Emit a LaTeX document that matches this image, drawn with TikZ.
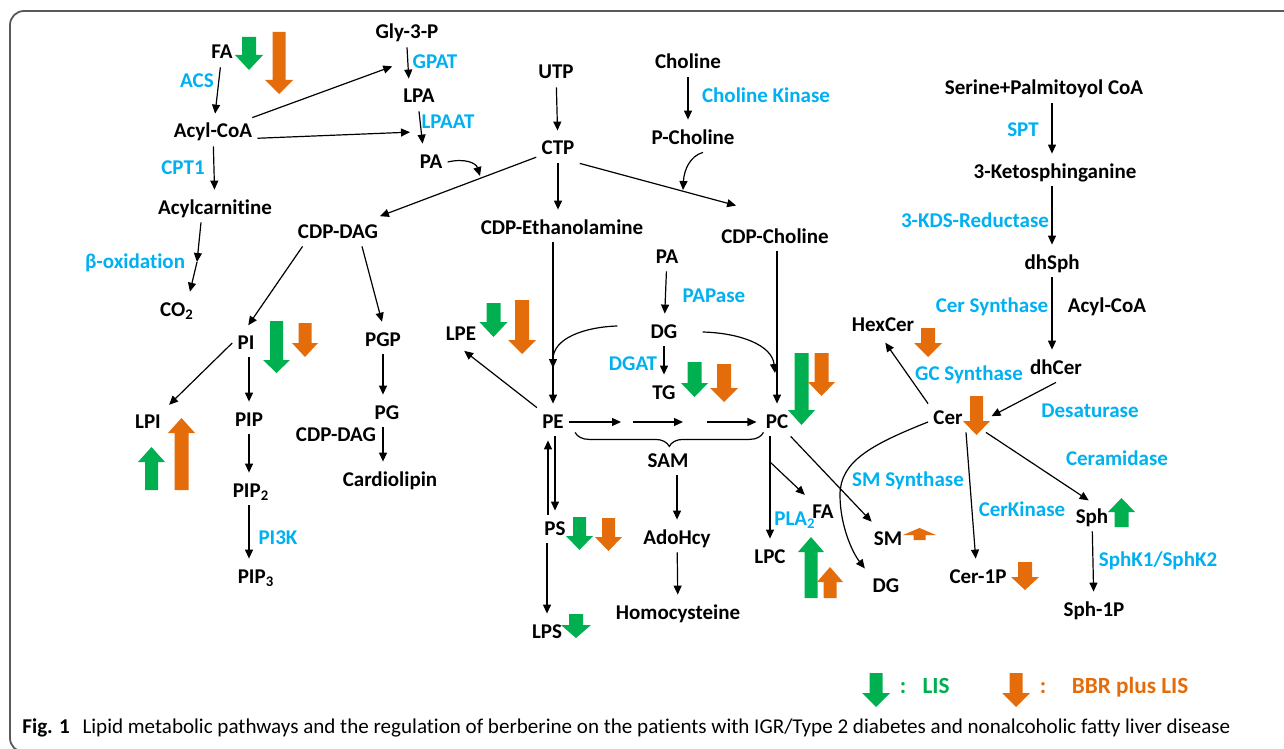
\documentclass[tikz,border=0pt]{standalone}
\usepackage{fontspec}
\setmainfont{Carlito}[Ligatures=NoCommon]
\usepackage{graphicx}
\usetikzlibrary{arrows.meta,decorations.pathreplacing}
\definecolor{lisgreen}{RGB}{0,176,80}
\definecolor{bbrorange}{RGB}{228,108,10}
\definecolor{enzblue}{RGB}{0,176,240}

\begin{document}
\begin{tikzpicture}[x=0.5pt, y=-0.5pt,
  metnode/.style={font=\fontsize{10.5}{12}\selectfont\bfseries, inner sep=2.5pt, text height=7.5pt, text depth=1.5pt},
  enznode/.style={metnode, text=enzblue},
  conv/.style={-{Triangle[length=4.5pt,width=4pt]}, line width=0.6pt, shorten >=2pt},
  legendtext/.style={font=\fontsize{11.6}{13}\selectfont\bfseries, inner sep=0pt, anchor=base}]

        \useasboundingbox (0,0) rectangle (1284,749);
        \draw[black!65, line width=0.9pt, rounded corners=7pt] (1300,11) -- (10,11) -- (10,752) -- (1300,752);

        % fatty acids
        \node[metnode] (fa) at (222,53) {FA};
        \node[enznode] (acs) at (197,82) {ACS};
        \node[metnode] (acyl) at (213,132) {Acyl-CoA};
        \node[enznode] (cpt) at (183,168) {CPT1};
        \node[metnode] (acar) at (215,208) {Acylcarnitine};
        \node[enznode] (boxi) at (135,262) {β-oxidation};
        \node[metnode] (co2) at (177,310) {CO\textsubscript{2}};

        % glycerol phosphate
        \node[metnode] (gly) at (407,33) {Gly-3-P};
        \node[enznode] (gpat) at (435,63) {GPAT};
        \node[metnode] (lpa) at (419,97) {LPA};
        \node[enznode] (lpaat) at (448,122) {LPAAT};
        \node[metnode] (pa) at (431,162) {PA};
        \node[metnode] (cdpdag) at (338,232) {CDP-DAG};

        % CTP
        \node[metnode] (utp) at (556,73) {UTP};
        \node[metnode] (ctp) at (558,149) {CTP};
        \node[metnode] (cdpe) at (562,228) {CDP-Ethanolamine};
        \node[metnode] (chol) at (688,63) {Choline};
        \node[enznode] (chk) at (766,97) {Choline Kinase};
        \node[metnode] (pchol) at (693,138) {P-Choline};
        \node[metnode] (cdpc) at (775,237) {CDP-Choline};

        % PA / DG
        \node[metnode] (pa2) at (667,257) {PA};
        \node[enznode] (papase) at (714,296) {PAPase};
        \node[metnode] (dg) at (664,332) {DG};
        \node[enznode] (dgat) at (633,364) {DGAT};
        \node[metnode] (tg) at (664,393) {TG};

        % PE / PC
        \node[metnode] (lpe) at (461,334) {LPE};
        \node[metnode] (pe) at (553,422) {PE};
        \node[metnode] (pc) at (777,422) {PC};
        \node[metnode] (sam) at (668,461) {SAM};
        \node[metnode] (adohcy) at (677,538) {AdoHcy};
        \node[metnode] (homocys) at (678,613) {Homocysteine};
        \node[metnode] (ps) at (555,529) {PS};
        \node[metnode] (lps) at (547,632) {LPS};
        \node[metnode] (lpc) at (770,557) {LPC};
        \node[metnode] (fa2) at (823,512) {FA};
        \node[enznode] (pla) at (795,519) {PLA\textsubscript{2}};

        % sphingolipids
        \node[metnode] (serine) at (1044,89) {Serine+Palmitoyol CoA};
        \node[enznode] (spt) at (1023,130) {SPT};
        \node[metnode] (keto) at (1055,172) {3-Ketosphinganine};
        \node[enznode] (kds) at (975,221) {3-KDS-Reductase};
        \node[metnode] (dhsph) at (1052,263) {dhSph};
        \node[enznode] (cers) at (992,306) {Cer Synthase};
        \node[metnode] (acyl2) at (1107,306) {Acyl-CoA};
        \node[metnode] (dhcer) at (1056,368) {dhCer};
        \node[metnode] (hexcer) at (883,325) {HexCer};
        \node[enznode] (gcs) at (969,374) {GC Synthase};
        \node[metnode] (cer) at (948,418) {Cer};
        \node[enznode] (desat) at (1090,411) {Desaturase};
        \node[enznode] (ceramidase) at (1117,459) {Ceramidase};
        \node[enznode] (sms) at (908,480) {SM Synthase};
        \node[enznode] (cerk) at (1022,510) {CerKinase};
        \node[metnode] (sph) at (1092,517) {Sph};
        \node[metnode] (sm) at (888,539) {SM};
        \node[enznode] (sphk) at (1158,560) {SphK1/SphK2};
        \node[metnode] (cer1p) at (978,577) {Cer-1P};
        \node[metnode] (dg2) at (886,586) {DG};
        \node[metnode] (sph1p) at (1094,610) {Sph-1P};

        % PI / PG
        \node[metnode] (pi) at (246,343) {PI};
        \node[metnode] (lpi) at (148,422) {LPI};
        \node[metnode] (pip) at (249,420) {PIP};
        \node[metnode] (pip2) at (251,491) {PIP\textsubscript{2}};
        \node[enznode] (pi3k) at (278,538) {PI3K};
        \node[metnode] (pip3) at (256,577) {PIP\textsubscript{3}};
        \node[metnode] (pgp) at (383,340) {PGP};
        \node[metnode] (pg) at (387,413) {PG};
        \node[metnode] (cdpdag2) at (336,435) {CDP-DAG};
        \node[metnode] (cardio) at (390,480) {Cardiolipin};

        % free ends on other arrows
        \coordinate (gpatend) at (396,65);
        \coordinate (lpaatend) at (414,132);
        \coordinate (paend) at (480,176);
        \coordinate (pcholend) at (683,190);
        \coordinate (oxmid) at (197,262);
        \coordinate (dgpe) at (553,368);
        \coordinate (dgpc) at (775,373);
        \coordinate (sam1) at (625,422);
        \coordinate (sam2) at (633,422);
        \coordinate (sam3) at (687,422);
        \coordinate (sam4) at (707,422);
        \coordinate (plabr) at (770,462);

        \draw[conv] (fa) -- (acyl);
        \draw[conv] (acyl) -- (gpatend);
        \draw[conv] (acyl.-8) -- (lpaatend);
        \draw[conv] (gly.south) -- ([xshift=-5pt]lpa.north);
        \draw[conv] (lpa.south) -- ([xshift=-4pt]pa.north);
        \draw[conv] (acyl) -- (acar);
        \draw[conv, shorten >=0pt] ([xshift=-7pt]acar.south) -- (oxmid);
        \draw[conv] (oxmid) -- ([xshift=6pt]co2.north);

        \draw[conv] (ctp) -- (cdpdag);
        \draw[conv, shorten >=0pt] (pa.east) .. controls (465,158) and (476,163) .. (paend);
        \draw[conv] (utp) -- (ctp);
        \draw[conv] (ctp) -- (ctp |- cdpe.north);
        \draw[conv] (ctp.south east) -- ([shift={(12pt,8pt)}]cdpc.north west);
        \draw[conv] (chol) -- (chol |- pchol.north);
        \draw[conv, shorten >=0pt] ([xshift=5pt]pchol.south) .. controls (690,156) and (684,170) .. (pcholend);
        \draw[conv] (pe.north |- cdpe.south) -- (pe.north);
        \draw[conv] (pc.north |- cdpc.south) -- (pc.north);
        \draw[conv] (pa2) -- (dg);
        \draw[conv] (dg) -- (tg);
        \draw[conv, shorten >=0pt] ([shift={(-14pt,3pt)}]dg.west) .. controls (585,327) and (553,338) .. (dgpe);
        \draw[conv, shorten >=0pt] ([xshift=10pt]dg.east) .. controls (740,333) and (772,345) .. (dgpc);

        \draw[conv] (pe) -- (sam1);
        \draw[conv] (sam2) -- (sam3);
        \draw[conv] (sam4) -- (pc);
        \draw[decorate, decoration={brace, mirror, amplitude=7pt}, line width=0.6pt] ([shift={(3pt,2pt)}]pe.south east) -- ([shift={(1.5pt,2pt)}]pc.south west);
        \draw[conv] (adohcy.north |- sam.south) -- (adohcy.north);
        \draw[conv] (adohcy) -- (homocys);
        \draw[conv] (pe.north west) -- (lpe.south);
        \draw[conv] ([xshift=1pt]pe.south) -- ([xshift=1pt]pe.south |- ps.north);
        \draw[conv] ([xshift=-3.5pt]ps.north) -- ([xshift=-3.5pt]ps.north |- pe.south);
        \draw[conv] (lps.north |- ps.south) -- (lps.north);
        \draw[conv] (lpc.north |- pc.south) -- (lpc.north);
        \draw[conv] (plabr) -- (fa2);
        \draw[conv] (pc) -- (sm);

        \draw[conv] ([yshift=-2pt]cer.west) .. controls (870,445) and (840,462) .. (840,495) .. controls (840,525) and (852,552) .. (dg2.north west);
        \draw[conv] (cer.north west) -- (hexcer.south);
        \draw[conv] (dhcer.south) -- ([xshift=10pt]cer.east);
        \draw[conv] ([xshift=9pt]cer.south) -- ([xshift=-1pt]cer1p.north);
        \draw[conv] ([xshift=9pt]cer.south east) -- (sph.north);
        \draw[conv] (sph) -- (sph1p);
        \draw[conv] (dhsph.north |- serine.south) -- (dhsph.north |- keto.north);
        \draw[conv] (dhsph.north |- keto.south) -- (dhsph.north);
        \draw[conv] (dhsph) -- (dhsph |- dhcer.north);

        \draw[conv] ([xshift=5pt]cdpdag.south west) -- (pi.north);
        \draw[conv] ([xshift=12pt]cdpdag.south) -- (pgp.north);
        \draw[conv] (pi.west) -- (lpi.north east);
        \draw[conv] (pip.north |- pi.south) -- (pip.north);
        \draw[conv] (pip.south) -- (pip.south |- pip2.north);
        \draw[conv] (pip.south |- pip2.south) -- (pip.south |- pip3.north);
        \draw[conv] (pgp) -- (pgp |- pg.north);
        \draw[conv] (pgp |- pg.south) -- (pgp |- cardio.north);

        % block arrows: x / base / neck / tip / head half width / shaft half width / colour
        \foreach \cx/\yb/\yn/\yt/\hw/\sw/\col in {
            249/37/55/70/14/7/lisgreen, 279/32/80/94/14/6.5/bbrorange,
            493.5/303/322/337/14/7/lisgreen, 522/300/340/354/14/7/bbrorange,
            694.5/362/383/397/13.5/7/lisgreen, 724/364/388/402/14/7/bbrorange,
            801.5/353/410/425/13.5/7/lisgreen, 821.5/353/382/396/13.5/7/bbrorange,
            579.5/517/536/550/13.5/6.5/lisgreen, 608.5/518/537/551/13.5/6.5/bbrorange,
            576/614/625/638/15/7/lisgreen,
            811/598/552/537/13/6.5/lisgreen, 830/598/582/567/13/6.5/bbrorange,
            276.5/321/360/373/13.5/6.5/lisgreen, 305/323/343/357/13/6.5/bbrorange,
            151.5/490/462/447/13.5/6.5/lisgreen, 181.5/490/433/418/13.5/7/bbrorange,
            928/328/343/357/14/7/bbrorange, 976.5/396/421/435/13.5/6.5/bbrorange,
            1025/562/577/590/14/7/bbrorange, 1121.5/527/512/498/13.5/7/lisgreen,
            919.5/540/535/528/16.5/6/bbrorange,
            876/673/693/707/14/6.5/lisgreen, 1016/673/693/707/14/6.5/bbrorange}
          \fill[\col] ({\cx-\sw},\yb) -- ({\cx+\sw},\yb) -- ({\cx+\sw},\yn) -- ({\cx+\hw},\yn) -- (\cx,\yt) -- ({\cx-\hw},\yn) -- ({\cx-\sw},\yn) -- cycle;

        % legend
        \node[legendtext, text=lisgreen] (colg) at (903,693) {:};
        \node[legendtext, text=lisgreen] (lis) at (936,693) {LIS};
        \node[legendtext, text=bbrorange] (colo) at (1043,693) {:};
        \node[legendtext, text=bbrorange] (bbr) at (1130,693) {BBR plus LIS};

        \node[anchor=base west, inner sep=0pt] (caption) at (22,733) {\resizebox{604pt}{!}{\textbf{Fig. 1}\hspace{0.6em}Lipid metabolic pathways and the regulation of berberine on the patients with IGR/Type 2 diabetes and nonalcoholic fatty liver disease}};

        \end{tikzpicture}
\end{document}
